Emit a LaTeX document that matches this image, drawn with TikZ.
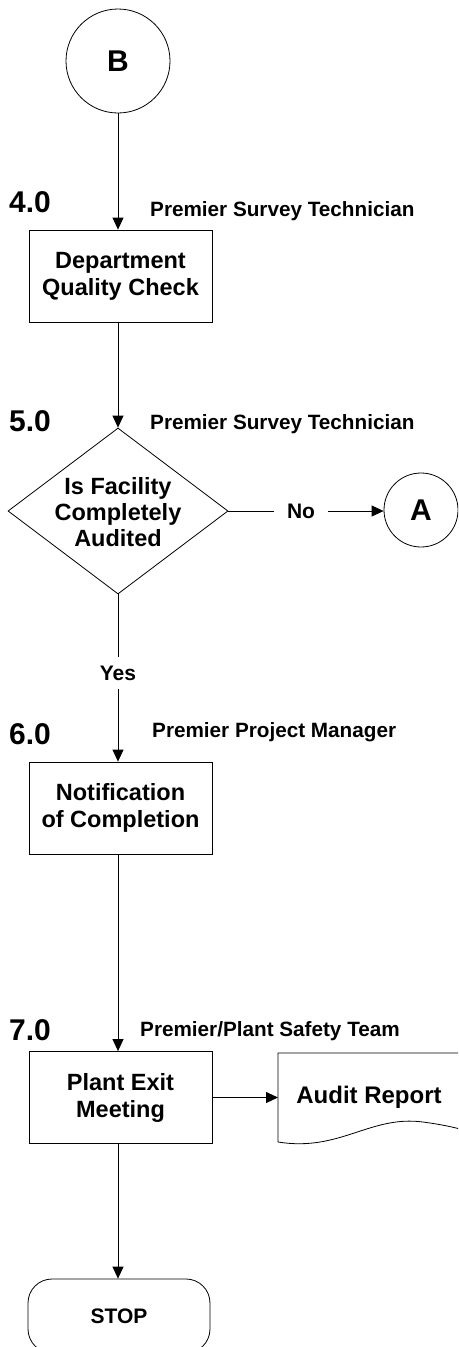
\documentclass[tikz,border=0pt]{standalone}
\usepackage{fontspec}
\setmainfont{Liberation Sans}
\usetikzlibrary{shapes.geometric,arrows.meta}
\tikzset{
  line/.style={draw=black, line width=0.8pt},
  arr/.style={line, -{Triangle[length=12pt,width=11pt]}},
  stepbox/.style={draw, line width=0.8pt, minimum width=183pt, minimum height=92pt, align=center, inner sep=0pt, font=\fontsize{23.5}{27}\selectfont\bfseries},
  conn/.style={circle, draw, line width=0.8pt, inner sep=0pt, font=\fontsize{30}{30}\selectfont\bfseries},
  num/.style={anchor=base west, inner sep=0pt, font=\fontsize{30}{30}\selectfont\bfseries},
  role/.style={anchor=base west, inner sep=0pt, font=\fontsize{20.7}{24}\selectfont\bfseries},
  lbl/.style={inner sep=0pt, font=\fontsize{21}{24}\selectfont\bfseries},
  decision/.style={diamond, draw, line width=0.8pt, minimum width=220pt, minimum height=166pt, inner sep=0pt},
  dtext/.style={align=center, inner sep=0pt, font=\fontsize{23.5}{26}\selectfont\bfseries},
  term/.style={draw, line width=0.8pt, rounded corners=24pt, minimum width=182pt, minimum height=74pt, inner sep=0pt, font=\fontsize{21}{24}\selectfont\bfseries},
}
\begin{document}
\begin{tikzpicture}[x=1pt,y=-1pt]
\useasboundingbox (0,0) rectangle (458,1347);
\clip (0,0) rectangle (458,1347);

% connectors / nodes
\node[conn, minimum size=104pt] (B) at (118,61) {B};
\node[stepbox] (box1) at (120.5,276) {Department\\Quality Check};
\node[decision] (d) at (118,511) {};
\node[dtext] (dt) at (118,512) {Is Facility\\Completely\\Audited};
\node[lbl, inner xsep=13pt] (no) at (301,511) {No};
\node[conn, minimum size=74pt] (A) at (421,510) {A};
\node[lbl, inner ysep=8.5pt] (yes) at (118,673) {Yes};
\node[stepbox] (box2) at (120.5,808) {Notification\\of Completion};
\node[stepbox] (box3) at (120.5,1097.5) {Plant Exit\\Meeting};
\node[term] (stop) at (119,1316) {STOP};

% document shape
\coordinate (docw) at (278,1099);
\draw[line] (475,1053) -- (278,1053) -- (278,1142)
  .. controls (340,1152) and (370,1115) .. (423,1122)
  .. controls (445,1125) and (458,1128) .. (478,1134);
\node[inner sep=0pt, font=\fontsize{24}{28}\selectfont\bfseries] (report) at (369,1097) {Audit Report};

% labels
\node[num] (n4) at (9,212) {4.0};
\node[num] (n5) at (9,431) {5.0};
\node[num] (n6) at (9,744) {6.0};
\node[num] (n7) at (9,1040) {7.0};
\node[role] (r4) at (150,216) {Premier Survey Technician};
\node[role] (r5) at (150,429) {Premier Survey Technician};
\node[role] (r6) at (152,737) {Premier Project Manager};
\node[role] (r7) at (140,1036) {Premier/Plant Safety Team};

% edges
\draw[arr] (B.south) -- (B.south |- box1.north);
\draw[arr] (box1.south -| d.north) -- (d.north);
\draw[line] (d.east) -- (no.west);
\draw[arr] (no.east) -- (no.east -| A.west);
\draw[line] (d.south) -- (yes.north);
\draw[arr] (yes.south) -- (yes.south |- box2.north);
\draw[arr] (box2.south -| d.south) -- (box3.north -| d.south);
\draw[arr] (box3.east) -- (box3.east -| docw);
\draw[arr] (box3.south -| d.south) -- (stop.north -| d.south);
\end{tikzpicture}
\end{document}
